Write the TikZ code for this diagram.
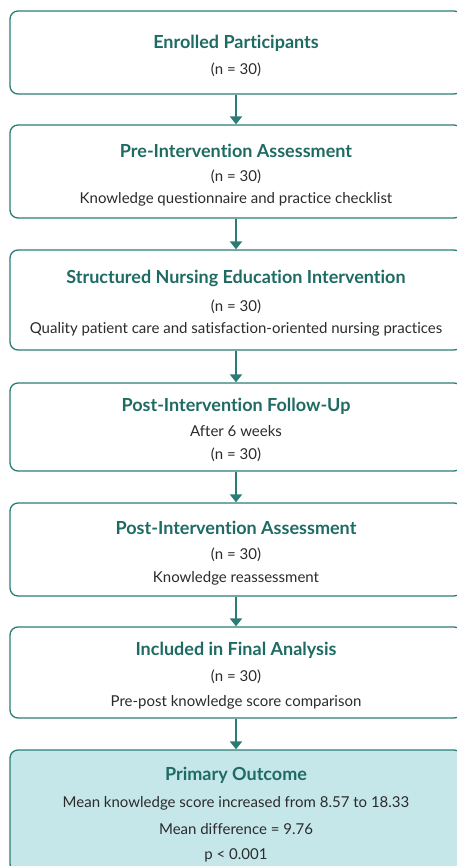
\documentclass[tikz,border=0pt]{standalone}
\usepackage{fontspec}
\setmainfont{Lato}[Ligatures=NoCommon]
\usetikzlibrary{arrows.meta,positioning}

\definecolor{flowteal}{HTML}{2B7C76}
\definecolor{titleteal}{HTML}{1E6B64}
\definecolor{outcomefill}{HTML}{C6E7EA}
\definecolor{bodygray}{HTML}{2B2B2B}

% heading line inside each stage box (the strut lowers the text a little)
\newcommand{\stagehead}[1]{{\fontsize{18}{20}\selectfont\bfseries\color{titleteal}\rule{0pt}{20pt}#1}}

\tikzset{
  stagebox/.style={draw=flowteal, line width=1.3pt, rounded corners=8pt,
    fill=white, minimum width=452pt, inner sep=0pt, align=center,
    text=bodygray, font=\fontsize{15}{17}\selectfont},
  outcomebox/.style={stagebox, fill=outcomefill},
  flowarrow/.style={draw=flowteal, line width=2pt,
    -{Triangle[width=12pt,length=8pt]}}
}

\begin{document}
\begin{tikzpicture}[x=1pt,y=1pt]
  \useasboundingbox (0,0) rectangle (456,-866);

  \node[stagebox, minimum height=83pt] (enrolled) at (236,-52.5)
    {\stagehead{Enrolled Participants}\\[9pt] (n = 30)};
  \node[stagebox, minimum height=93pt] (pretest) at (236,-171.5)
    {\stagehead{Pre-Intervention Assessment}\\[7pt] (n = 30)\\[5pt]
     Knowledge questionnaire and practice checklist};
  \node[stagebox, minimum height=100pt] (teaching) at (236,-300)
    {\stagehead{Structured Nursing Education Intervention}\\[11pt] (n = 30)\\[5pt]
     Quality patient care and satisfaction-oriented nursing practices};
  \node[stagebox, minimum height=88pt] (followup) at (236,-427)
    {\stagehead{Post-Intervention Follow-Up}\\[8pt] After 6 weeks\\[6pt] (n = 30)};
  \node[stagebox, minimum height=93pt] (posttest) at (236,-549.5)
    {\stagehead{Post-Intervention Assessment}\\[8pt] (n = 30)\\[6pt]
     Knowledge reassessment};
  \node[stagebox, minimum height=91pt] (analysed) at (236,-672.5)
    {\stagehead{Included in Final Analysis}\\[9pt] (n = 30)\\[8pt]
     Pre-post knowledge score comparison};
  \node[outcomebox, minimum height=122pt] (outcome) at (236,-811)
    {\stagehead{Primary Outcome}\\[10pt]
     Mean knowledge score increased from 8.57 to 18.33\\[10pt]
     Mean difference = 9.76\\[8pt]
     p < 0.001};

  % connectors down the flow
  \draw[flowarrow] (enrolled) -- (pretest);
  \draw[flowarrow] (pretest) -- (teaching);
  \draw[flowarrow] (teaching) -- (followup);
  \draw[flowarrow] (followup) -- (posttest);
  \draw[flowarrow] (posttest) -- (analysed);
  \draw[flowarrow] (analysed) -- (outcome);
\end{tikzpicture}
\end{document}
